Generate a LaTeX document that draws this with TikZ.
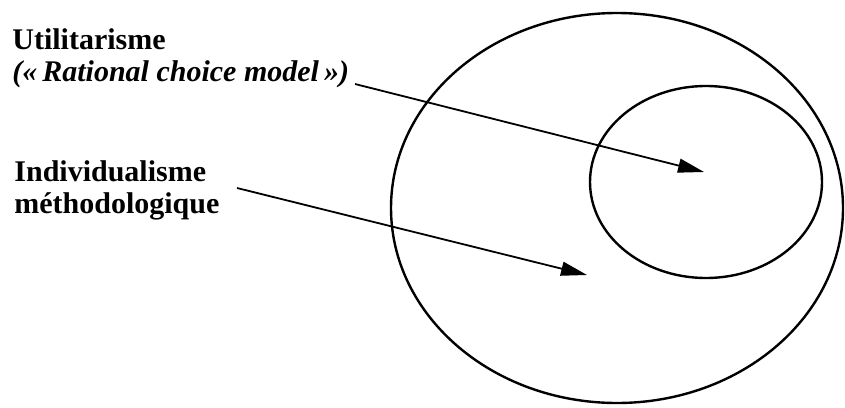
\documentclass[tikz,border=0pt]{standalone}
\usepackage{fontspec}
\setmainfont{Liberation Serif}
\usetikzlibrary{arrows.meta}

\begin{document}
\begin{tikzpicture}[x=0.5pt, y=-0.5pt,
    labeltext/.style={anchor=base west, inner sep=0pt, align=left,
        font=\bfseries\fontsize{15}{16}\selectfont},
    pointer/.style={line width=0.9pt, -{Triangle[length=13pt, width=7pt]}},
    ring/.style={line width=1.2pt}]
    \def\W{845}         % picture width
    \def\H{407}         % picture height
    \def\ox{617}        % outer circle centre x
    \def\oy{208}        % outer circle centre y
    \def\ix{706}        % inner circle centre x
    \def\iy{182}        % inner circle centre y
    \useasboundingbox (0,0) rectangle (\W,\H);
    % Draw the circles
    \draw[ring] (\ox,\oy) ellipse [x radius=113pt, y radius=97.5pt];
    \draw[ring] (\ix,\iy) ellipse [x radius=58pt, y radius=48pt];
    % Draw the labels (base anchor sits on the last line)
    \node[labeltext] (utilitarisme) at (12,81)
        {Utilitarisme\\{\itshape(«\,Rational choice model\,»)}};
    \node[labeltext] (individualisme) at (14,213)
        {Individualisme\\méthodologique};
    % Draw the arrows
    \coordinate (utilstart) at (355,84);
    \coordinate (innertip) at (704,172);
    \coordinate (indivstart) at (237,188);
    \coordinate (outertip) at (587,275);
    \draw[pointer] (utilstart) -- (innertip);
    \draw[pointer] (indivstart) -- (outertip);
\end{tikzpicture}
\end{document}
